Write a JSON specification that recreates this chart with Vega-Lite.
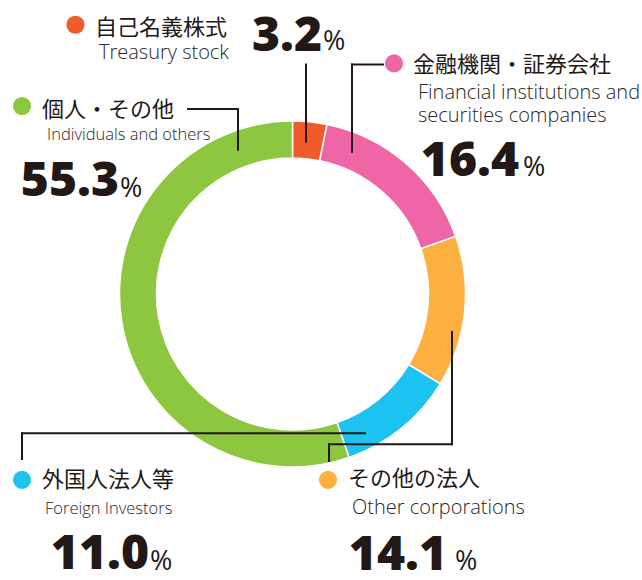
{
  "$schema": "https://vega.github.io/schema/vega-lite/v6.json",
  "width": 642,
  "height": 580,
  "autosize": {"type": "fit", "contains": "padding"},
  "padding": 0,
  "background": "white",
  "config": {"view": {"stroke": null}},
  "datasets": {
    "segments": [
      {"order": 1, "jp": "自己名義株式", "en": "Treasury stock", "value": 3.2, "dotX": 75.5, "dotY": 25, "jpX": 95, "jpY": 35, "enX": 99, "enY": 60, "numX": 322, "numY": 51, "pctX": 323, "pctY": 50},
      {"order": 2, "jp": "金融機関・証券会社", "en": "Financial institutions and\nsecurities companies", "value": 16.4, "dotX": 394, "dotY": 64, "jpX": 413, "jpY": 73, "enX": 418, "enY": 100, "numX": 519, "numY": 178, "pctX": 523, "pctY": 178},
      {"order": 3, "jp": "その他の法人", "en": "Other corporations", "value": 14.1, "dotX": 328, "dotY": 484, "jpX": 348, "jpY": 490, "enX": 352, "enY": 518, "numX": 447, "numY": 575, "pctX": 455, "pctY": 575},
      {"order": 4, "jp": "外国人法人等", "en": "Foreign Investors", "value": 11.0, "dotX": 22, "dotY": 484, "jpX": 42, "jpY": 491, "enX": 45, "enY": 518, "numX": 149, "numY": 574, "pctX": 150, "pctY": 575},
      {"order": 5, "jp": "個人・その他", "en": "Individuals and others", "value": 55.3, "dotX": 22, "dotY": 107, "jpX": 42, "jpY": 118, "enX": 47, "enY": 141, "numX": 119, "numY": 198, "pctX": 120, "pctY": 199}
    ],
    "leaders": [
      {"seg": "treasury", "x": 306, "y": 65, "x2": 306, "y2": 143},
      {"seg": "financial", "x": 383, "y": 65, "x2": 352, "y2": 65},
      {"seg": "financial", "x": 352, "y": 65, "x2": 352, "y2": 153},
      {"seg": "other", "x": 329, "y": 465, "x2": 329, "y2": 448},
      {"seg": "other", "x": 329, "y": 448, "x2": 452, "y2": 448},
      {"seg": "other", "x": 452, "y": 448, "x2": 452, "y2": 335},
      {"seg": "foreign", "x": 22, "y": 463, "x2": 22, "y2": 437},
      {"seg": "foreign", "x": 22, "y": 437, "x2": 365, "y2": 437},
      {"seg": "individuals", "x": 188, "y": 110, "x2": 238, "y2": 110},
      {"seg": "individuals", "x": 238, "y": 110, "x2": 238, "y2": 151}
    ]
  },
  "layer": [
    {
      "data": {"name": "segments"},
      "mark": {"type": "arc", "innerRadius": 136, "outerRadius": 173, "stroke": "white", "strokeWidth": 1.5},
      "encoding": {
        "x": {"datum": 292.5, "type": "quantitative", "scale": {"domain": [0, 642], "nice": false, "zero": false}, "axis": null},
        "y": {"datum": 296.5, "type": "quantitative", "scale": {"domain": [0, 580], "reverse": true, "nice": false, "zero": false}, "axis": null},
        "theta": {"field": "value", "type": "quantitative", "stack": true},
        "order": {"field": "order", "type": "quantitative", "sort": "ascending"},
        "color": {"field": "jp", "type": "nominal", "legend": null,
          "scale": {"domain": ["自己名義株式", "金融機関・証券会社", "その他の法人", "外国人法人等", "個人・その他"],
                    "range": ["#F15A29", "#EF66A6", "#FBB040", "#1CC3F0", "#8DC63F"]}}
      }
    },
    {
      "data": {"name": "leaders"},
      "mark": {"type": "rule", "stroke": "#231815", "strokeWidth": 2, "strokeCap": "square"},
      "encoding": {
        "x": {"field": "x", "type": "quantitative", "axis": null},
        "y": {"field": "y", "type": "quantitative", "axis": null},
        "x2": {"field": "x2"},
        "y2": {"field": "y2"}
      }
    },
    {
      "data": {"name": "segments"},
      "mark": {"type": "point", "filled": true, "size": 330, "shape": "circle", "opacity": 1},
      "encoding": {
        "x": {"field": "dotX", "type": "quantitative", "axis": null},
        "y": {"field": "dotY", "type": "quantitative", "axis": null},
        "color": {"field": "jp", "type": "nominal", "legend": null}
      }
    },
    {
      "data": {"name": "segments"},
      "mark": {"type": "text", "align": "left", "baseline": "alphabetic", "font": "Noto Sans CJK JP", "fontSize": 22, "color": "#231815"},
      "encoding": {
        "x": {"field": "jpX", "type": "quantitative", "axis": null},
        "y": {"field": "jpY", "type": "quantitative", "axis": null},
        "text": {"field": "jp"}
      }
    },
    {
      "data": {"name": "segments"},
      "transform": [{"filter": "datum.order <= 3"}],
      "mark": {"type": "text", "align": "left", "baseline": "alphabetic", "font": "Open Sans", "fontWeight": 300, "fontSize": 20, "lineHeight": 23, "lineBreak": "\n", "color": "#2a2627"},
      "encoding": {
        "x": {"field": "enX", "type": "quantitative", "axis": null},
        "y": {"field": "enY", "type": "quantitative", "axis": null},
        "text": {"field": "en"}
      }
    },
    {
      "data": {"name": "segments"},
      "transform": [{"filter": "datum.order >= 4"}],
      "mark": {"type": "text", "align": "left", "baseline": "alphabetic", "font": "Open Sans", "fontWeight": 300, "fontSize": 16.5, "color": "#2a2627"},
      "encoding": {
        "x": {"field": "enX", "type": "quantitative", "axis": null},
        "y": {"field": "enY", "type": "quantitative", "axis": null},
        "text": {"field": "en"}
      }
    },
    {
      "data": {"name": "segments"},
      "mark": {"type": "text", "align": "right", "baseline": "alphabetic", "font": "Open Sans", "fontWeight": 800, "fontSize": 48, "color": "#231815"},
      "encoding": {
        "x": {"field": "numX", "type": "quantitative", "axis": null},
        "y": {"field": "numY", "type": "quantitative", "axis": null},
        "text": {"field": "value", "type": "quantitative", "format": ".1f"}
      }
    },
    {
      "data": {"name": "segments"},
      "mark": {"type": "text", "align": "left", "baseline": "alphabetic", "font": "Open Sans", "fontSize": 27, "color": "#231815", "text": "%"},
      "encoding": {
        "x": {"field": "pctX", "type": "quantitative", "axis": null},
        "y": {"field": "pctY", "type": "quantitative", "axis": null}
      }
    }
  ]
}
